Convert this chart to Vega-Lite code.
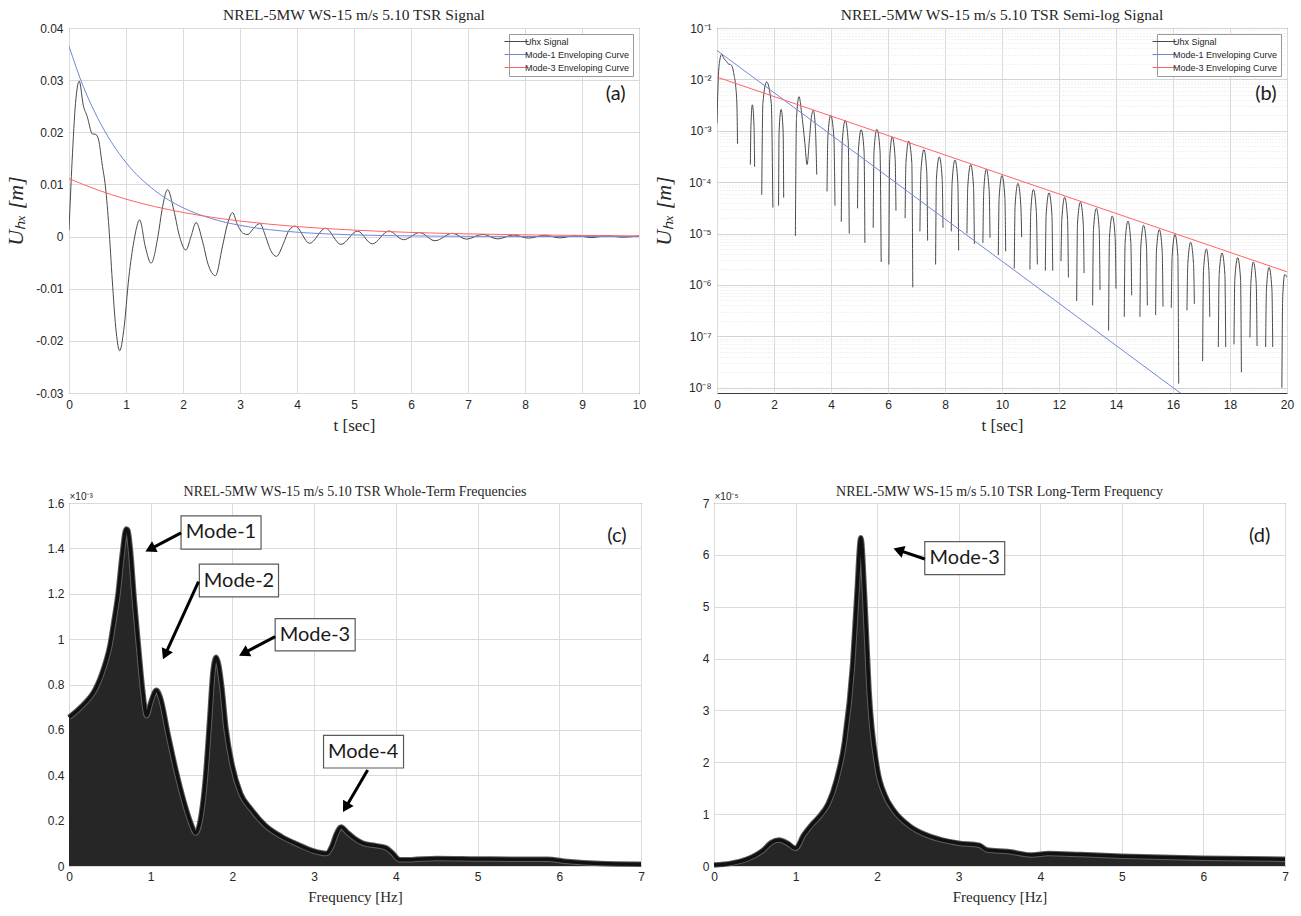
{
  "$schema": "https://vega.github.io/schema/vega-lite/v6.json",
  "padding": {"left": 3, "top": 7, "right": 5, "bottom": 0},
  "spacing": 50,
  "datasets": {
    "sig_a": [
      {"t": 0, "v": 0.0012}, {"t": 0.055, "v": 0.0146}, {"t": 0.114, "v": 0.0255}, {"t": 0.18, "v": 0.0298},
      {"t": 0.25, "v": 0.0252}, {"t": 0.32, "v": 0.023}, {"t": 0.41, "v": 0.0197}, {"t": 0.47, "v": 0.0196},
      {"t": 0.52, "v": 0.0185}, {"t": 0.58, "v": 0.014}, {"t": 0.64, "v": 0.0095}, {"t": 0.7, "v": 0.0018},
      {"t": 0.76, "v": -0.0085}, {"t": 0.82, "v": -0.0174}, {"t": 0.89, "v": -0.0219}, {"t": 0.96, "v": -0.018},
      {"t": 1.05, "v": -0.0078}, {"t": 1.14, "v": -0.0008}, {"t": 1.24, "v": 0.0032}, {"t": 1.34, "v": -0.002},
      {"t": 1.44, "v": -0.0051}, {"t": 1.56, "v": 0}, {"t": 1.63, "v": 0.005}, {"t": 1.73, "v": 0.009},
      {"t": 1.84, "v": 0.005}, {"t": 1.94, "v": 0}, {"t": 2.05, "v": -0.0026}, {"t": 2.14, "v": 0},
      {"t": 2.23, "v": 0.0027}, {"t": 2.34, "v": -0.0008}, {"t": 2.44, "v": -0.0053}, {"t": 2.57, "v": -0.0075},
      {"t": 2.69, "v": -0.002}, {"t": 2.78, "v": 0.0024}, {"t": 2.87, "v": 0.0046}, {"t": 2.95, "v": 0.0024},
      {"t": 3.06, "v": 0.0006}, {"t": 3.14, "v": 0.0004}, {"t": 3.23, "v": 0.0015}, {"t": 3.35, "v": 0.0025},
      {"t": 3.45, "v": 0}, {"t": 3.54, "v": -0.0027}, {"t": 3.64, "v": -0.0038}, {"t": 3.76, "v": -0.0014},
      {"t": 3.86, "v": 0.0012}, {"t": 3.97, "v": 0.002}, {"t": 4.22, "v": -0.0013}, {"t": 4.5, "v": 0.0016},
      {"t": 4.77, "v": -0.0015}, {"t": 5.06, "v": 0.00105}, {"t": 5.32, "v": -0.0014}, {"t": 5.61, "v": 0.00107},
      {"t": 5.87, "v": -0.0006}, {"t": 6.15, "v": 0.00076}, {"t": 6.42, "v": -0.0008}, {"t": 6.73, "v": 0.00063},
      {"t": 6.97, "v": -0.0005}, {"t": 7.26, "v": 0.00043}, {"t": 7.52, "v": -0.00045}, {"t": 7.8, "v": 0.00031},
      {"t": 8.06, "v": -0.0003}, {"t": 8.35, "v": 0.00027}, {"t": 8.61, "v": -0.00025}, {"t": 8.9, "v": 0.00022},
      {"t": 9.16, "v": -0.0002}, {"t": 9.45, "v": 0.00018}, {"t": 9.71, "v": -0.00012}, {"t": 10, "v": 0.00013}
    ],
    "env_a": [
      {"curve": "Mode-1 Enveloping Curve", "t": 0, "v": 0.0365}, {"curve": "Mode-1 Enveloping Curve", "t": 0.25, "v": 0.0288},
      {"curve": "Mode-1 Enveloping Curve", "t": 0.5, "v": 0.0228}, {"curve": "Mode-1 Enveloping Curve", "t": 0.75, "v": 0.018},
      {"curve": "Mode-1 Enveloping Curve", "t": 1, "v": 0.0142}, {"curve": "Mode-1 Enveloping Curve", "t": 1.5, "v": 0.00887},
      {"curve": "Mode-1 Enveloping Curve", "t": 2, "v": 0.00553}, {"curve": "Mode-1 Enveloping Curve", "t": 2.5, "v": 0.00345},
      {"curve": "Mode-1 Enveloping Curve", "t": 3, "v": 0.00215}, {"curve": "Mode-1 Enveloping Curve", "t": 3.5, "v": 0.00134},
      {"curve": "Mode-1 Enveloping Curve", "t": 4, "v": 0.00084}, {"curve": "Mode-1 Enveloping Curve", "t": 5, "v": 0.000326},
      {"curve": "Mode-1 Enveloping Curve", "t": 6, "v": 0.000127}, {"curve": "Mode-1 Enveloping Curve", "t": 7, "v": 0.000049},
      {"curve": "Mode-1 Enveloping Curve", "t": 8, "v": 0.000019}, {"curve": "Mode-1 Enveloping Curve", "t": 9, "v": 0.0000074},
      {"curve": "Mode-1 Enveloping Curve", "t": 10, "v": 0.0000029},
      {"curve": "Mode-3 Enveloping Curve", "t": 0, "v": 0.0111}, {"curve": "Mode-3 Enveloping Curve", "t": 0.5, "v": 0.00895},
      {"curve": "Mode-3 Enveloping Curve", "t": 1, "v": 0.00718}, {"curve": "Mode-3 Enveloping Curve", "t": 1.5, "v": 0.00576},
      {"curve": "Mode-3 Enveloping Curve", "t": 2, "v": 0.00463}, {"curve": "Mode-3 Enveloping Curve", "t": 2.5, "v": 0.00371},
      {"curve": "Mode-3 Enveloping Curve", "t": 3, "v": 0.00298}, {"curve": "Mode-3 Enveloping Curve", "t": 4, "v": 0.00192},
      {"curve": "Mode-3 Enveloping Curve", "t": 5, "v": 0.00124}, {"curve": "Mode-3 Enveloping Curve", "t": 6, "v": 0.000796},
      {"curve": "Mode-3 Enveloping Curve", "t": 7, "v": 0.000512}, {"curve": "Mode-3 Enveloping Curve", "t": 8, "v": 0.00033},
      {"curve": "Mode-3 Enveloping Curve", "t": 9, "v": 0.000212}, {"curve": "Mode-3 Enveloping Curve", "t": 10, "v": 0.000137}
    ],
    "sig_b": [
      {"seg": 1, "t": 0, "v": 0.0014}, {"seg": 1, "t": 0.05, "v": 0.012}, {"seg": 1, "t": 0.1, "v": 0.024}, {"seg": 1, "t": 0.16, "v": 0.031},
      {"seg": 1, "t": 0.25, "v": 0.025}, {"seg": 1, "t": 0.32, "v": 0.023}, {"seg": 1, "t": 0.41, "v": 0.0198}, {"seg": 1, "t": 0.47, "v": 0.0196},
      {"seg": 1, "t": 0.53, "v": 0.018}, {"seg": 1, "t": 0.6, "v": 0.012}, {"seg": 1, "t": 0.66, "v": 0.007}, {"seg": 1, "t": 0.7, "v": 0.003},
      {"seg": 1, "t": 0.72, "v": 0.00056},
      {"seg": 2, "t": 1.17, "v": 2.2e-4}, {"seg": 2, "t": 1.19, "v": 1.2e-3}, {"seg": 2, "t": 1.24, "v": 3.2e-3}, {"seg": 2, "t": 1.3, "v": 1.2e-3}, {"seg": 2, "t": 1.32, "v": 2e-4},
      {"seg": 3, "t": 1.57, "v": 5.7e-5}, {"seg": 3, "t": 1.61, "v": 3.4e-3}, {"seg": 3, "t": 1.74, "v": 8.9e-3}, {"seg": 3, "t": 1.905, "v": 3.4e-3}, {"seg": 3, "t": 1.96, "v": 3.2e-5},
      {"seg": 4, "t": 2.16, "v": 3.5e-5}, {"seg": 4, "t": 2.18, "v": 9.9e-4}, {"seg": 4, "t": 2.25, "v": 2.6e-3}, {"seg": 4, "t": 2.32, "v": 9.9e-4}, {"seg": 4, "t": 2.34, "v": 5e-5},
      {"seg": 5, "t": 2.75, "v": 9e-6}, {"seg": 5, "t": 2.79, "v": 1.8e-3}, {"seg": 5, "t": 2.88, "v": 4.6e-3}, {"seg": 5, "t": 2.97, "v": 2.2e-3},
      {"seg": 5, "t": 3.08, "v": 6e-4}, {"seg": 5, "t": 3.16, "v": 2.2e-4}, {"seg": 5, "t": 3.24, "v": 6.5e-4}, {"seg": 5, "t": 3.31, "v": 1.8e-3},
      {"seg": 5, "t": 3.38, "v": 2.5e-3}, {"seg": 5, "t": 3.45, "v": 1.2e-3}, {"seg": 5, "t": 3.5, "v": 1.4e-4},
      {"seg": 6, "t": 3.86, "v": 6.6e-5}, {"seg": 6, "t": 3.89, "v": 7.6e-4}, {"seg": 6, "t": 3.99, "v": 2e-3}, {"seg": 6, "t": 4.1, "v": 7.6e-4}, {"seg": 6, "t": 4.14, "v": 3.5e-5},
      {"seg": 7, "t": 4.36, "v": 1.7e-5}, {"seg": 7, "t": 4.395, "v": 6.1e-4}, {"seg": 7, "t": 4.5, "v": 1.6e-3}, {"seg": 7, "t": 4.605, "v": 6.1e-4}, {"seg": 7, "t": 4.64, "v": 1e-5},
      {"seg": 8, "t": 4.93, "v": 3.1e-5}, {"seg": 8, "t": 4.96, "v": 4e-4}, {"seg": 8, "t": 5.06, "v": 1.05e-3}, {"seg": 8, "t": 5.16, "v": 4e-4}, {"seg": 8, "t": 5.19, "v": 6.6e-6},
      {"seg": 9, "t": 5.48, "v": 1.3e-5}, {"seg": 9, "t": 5.51, "v": 4.1e-4}, {"seg": 9, "t": 5.61, "v": 1.07e-3}, {"seg": 9, "t": 5.72, "v": 4.1e-4}, {"seg": 9, "t": 5.76, "v": 2.8e-6},
      {"seg": 10, "t": 6.03, "v": 2.5e-6}, {"seg": 10, "t": 6.06, "v": 2.9e-4}, {"seg": 10, "t": 6.15, "v": 7.6e-4}, {"seg": 10, "t": 6.25, "v": 2.9e-4}, {"seg": 10, "t": 6.28, "v": 2.8e-5},
      {"seg": 11, "t": 6.6, "v": 2e-5}, {"seg": 11, "t": 6.63, "v": 2.4e-4}, {"seg": 11, "t": 6.73, "v": 6.3e-4}, {"seg": 11, "t": 6.835, "v": 2.4e-4}, {"seg": 11, "t": 6.87, "v": 9e-7},
      {"seg": 12, "t": 7.12, "v": 1.1e-5}, {"seg": 12, "t": 7.155, "v": 1.6e-4}, {"seg": 12, "t": 7.26, "v": 4.3e-4}, {"seg": 12, "t": 7.36, "v": 1.6e-4}, {"seg": 12, "t": 7.39, "v": 7.3e-6},
      {"seg": 13, "t": 7.67, "v": 2.5e-6}, {"seg": 13, "t": 7.7, "v": 1.2e-4}, {"seg": 13, "t": 7.8, "v": 3.1e-4}, {"seg": 13, "t": 7.9, "v": 1.2e-4}, {"seg": 13, "t": 7.93, "v": 1.3e-5},
      {"seg": 14, "t": 8.22, "v": 1.1e-5}, {"seg": 14, "t": 8.25, "v": 1e-4}, {"seg": 14, "t": 8.35, "v": 2.7e-4}, {"seg": 14, "t": 8.45, "v": 1e-4}, {"seg": 14, "t": 8.48, "v": 4.7e-6},
      {"seg": 15, "t": 8.77, "v": 1e-5}, {"seg": 15, "t": 8.8, "v": 8.4e-5}, {"seg": 15, "t": 8.9, "v": 2.2e-4}, {"seg": 15, "t": 9.0, "v": 8.4e-5}, {"seg": 15, "t": 9.03, "v": 6.3e-6},
      {"seg": 16, "t": 9.33, "v": 6.6e-6}, {"seg": 16, "t": 9.36, "v": 6.8e-5}, {"seg": 16, "t": 9.45, "v": 1.8e-4}, {"seg": 16, "t": 9.55, "v": 6.8e-5}, {"seg": 16, "t": 9.58, "v": 8.3e-6},
      {"seg": 17, "t": 9.87, "v": 3.8e-6}, {"seg": 17, "t": 9.9, "v": 5.1e-5}, {"seg": 17, "t": 10.0, "v": 1.35e-4}, {"seg": 17, "t": 10.1, "v": 5.1e-5}, {"seg": 17, "t": 10.13, "v": 4.5e-6},
      {"seg": 18, "t": 10.43, "v": 2.1e-6}, {"seg": 18, "t": 10.46, "v": 3.6e-5}, {"seg": 18, "t": 10.56, "v": 9.5e-5}, {"seg": 18, "t": 10.66, "v": 3.6e-5}, {"seg": 18, "t": 10.69, "v": 8.5e-6},
      {"seg": 19, "t": 10.98, "v": 2e-6}, {"seg": 19, "t": 11.01, "v": 2.7e-5}, {"seg": 19, "t": 11.1, "v": 7.2e-5}, {"seg": 19, "t": 11.205, "v": 2.7e-5}, {"seg": 19, "t": 11.24, "v": 2.5e-6},
      {"seg": 20, "t": 11.52, "v": 1.9e-6}, {"seg": 20, "t": 11.55, "v": 2.4e-5}, {"seg": 20, "t": 11.65, "v": 6.2e-5}, {"seg": 20, "t": 11.75, "v": 2.4e-5}, {"seg": 20, "t": 11.78, "v": 1.9e-6},
      {"seg": 21, "t": 12.07, "v": 2.9e-6}, {"seg": 21, "t": 12.1, "v": 1.9e-5}, {"seg": 21, "t": 12.2, "v": 5.1e-5}, {"seg": 21, "t": 12.3, "v": 1.9e-5}, {"seg": 21, "t": 12.33, "v": 1.4e-6},
      {"seg": 22, "t": 12.62, "v": 4.9e-7}, {"seg": 22, "t": 12.65, "v": 1.6e-5}, {"seg": 22, "t": 12.75, "v": 4.1e-5}, {"seg": 22, "t": 12.85, "v": 1.6e-5}, {"seg": 22, "t": 12.88, "v": 1.7e-6},
      {"seg": 23, "t": 13.18, "v": 4e-7}, {"seg": 23, "t": 13.21, "v": 1.2e-5}, {"seg": 23, "t": 13.31, "v": 3.1e-5}, {"seg": 23, "t": 13.41, "v": 1.2e-5}, {"seg": 23, "t": 13.44, "v": 8e-7},
      {"seg": 24, "t": 13.74, "v": 1.3e-7}, {"seg": 24, "t": 13.77, "v": 8.4e-6}, {"seg": 24, "t": 13.87, "v": 2.2e-5}, {"seg": 24, "t": 13.97, "v": 8.4e-6}, {"seg": 24, "t": 14.0, "v": 8.5e-7},
      {"seg": 25, "t": 14.29, "v": 2.4e-7}, {"seg": 25, "t": 14.32, "v": 6.7e-6}, {"seg": 25, "t": 14.42, "v": 1.75e-5}, {"seg": 25, "t": 14.52, "v": 6.7e-6}, {"seg": 25, "t": 14.55, "v": 6.3e-7},
      {"seg": 26, "t": 14.84, "v": 2.4e-7}, {"seg": 26, "t": 14.87, "v": 5.5e-6}, {"seg": 26, "t": 14.97, "v": 1.45e-5}, {"seg": 26, "t": 15.07, "v": 5.5e-6}, {"seg": 26, "t": 15.1, "v": 4e-7},
      {"seg": 27, "t": 15.39, "v": 2.6e-7}, {"seg": 27, "t": 15.42, "v": 4.6e-6}, {"seg": 27, "t": 15.52, "v": 1.2e-5}, {"seg": 27, "t": 15.62, "v": 4.6e-6}, {"seg": 27, "t": 15.65, "v": 3.8e-7},
      {"seg": 28, "t": 15.94, "v": 3.6e-7}, {"seg": 28, "t": 15.97, "v": 3.6e-6}, {"seg": 28, "t": 16.07, "v": 9.6e-6}, {"seg": 28, "t": 16.17, "v": 3.6e-6}, {"seg": 28, "t": 16.2, "v": 1.2e-8},
      {"seg": 29, "t": 16.49, "v": 3.2e-7}, {"seg": 29, "t": 16.52, "v": 2.6e-6}, {"seg": 29, "t": 16.62, "v": 6.8e-6}, {"seg": 29, "t": 16.72, "v": 2.6e-6}, {"seg": 29, "t": 16.75, "v": 4.3e-7},
      {"seg": 30, "t": 17.04, "v": 3.3e-8}, {"seg": 30, "t": 17.07, "v": 1.9e-6}, {"seg": 30, "t": 17.17, "v": 5e-6}, {"seg": 30, "t": 17.26, "v": 1.9e-6}, {"seg": 30, "t": 17.29, "v": 2.4e-7},
      {"seg": 31, "t": 17.59, "v": 6.2e-8}, {"seg": 31, "t": 17.62, "v": 1.6e-6}, {"seg": 31, "t": 17.72, "v": 4.2e-6}, {"seg": 31, "t": 17.82, "v": 1.6e-6}, {"seg": 31, "t": 17.85, "v": 6.2e-8},
      {"seg": 32, "t": 18.14, "v": 7e-8}, {"seg": 32, "t": 18.17, "v": 1.3e-6}, {"seg": 32, "t": 18.27, "v": 3.4e-6}, {"seg": 32, "t": 18.37, "v": 1.3e-6}, {"seg": 32, "t": 18.4, "v": 2e-8},
      {"seg": 33, "t": 18.7, "v": 9.5e-8}, {"seg": 33, "t": 18.73, "v": 1.06e-6}, {"seg": 33, "t": 18.82, "v": 2.8e-6}, {"seg": 33, "t": 18.92, "v": 1.06e-6}, {"seg": 33, "t": 18.95, "v": 6.5e-8},
      {"seg": 34, "t": 19.25, "v": 6.2e-8}, {"seg": 34, "t": 19.28, "v": 8.4e-7}, {"seg": 34, "t": 19.37, "v": 2.2e-6}, {"seg": 34, "t": 19.47, "v": 8.4e-7}, {"seg": 34, "t": 19.5, "v": 6.2e-8},
      {"seg": 35, "t": 19.82, "v": 1e-8}, {"seg": 35, "t": 19.85, "v": 6e-7}, {"seg": 35, "t": 19.92, "v": 1.6e-6}, {"seg": 35, "t": 20.0, "v": 1.4e-6}
    ],
    "env_b": [
      {"curve": "Mode-1 Enveloping Curve", "t": 0, "v": 0.0365}, {"curve": "Mode-1 Enveloping Curve", "t": 16.4, "v": 6.9e-9},
      {"curve": "Mode-3 Enveloping Curve", "t": 0, "v": 0.0111}, {"curve": "Mode-3 Enveloping Curve", "t": 20, "v": 1.8e-6}
    ],
    "spec_c": [
      {"f": 0, "v": 0.655}, {"f": 0.1, "v": 0.685}, {"f": 0.2, "v": 0.72}, {"f": 0.3, "v": 0.765}, {"f": 0.35, "v": 0.8},
      {"f": 0.4, "v": 0.845}, {"f": 0.45, "v": 0.9}, {"f": 0.5, "v": 0.97}, {"f": 0.55, "v": 1.08}, {"f": 0.6, "v": 1.2},
      {"f": 0.65, "v": 1.37}, {"f": 0.7, "v": 1.485}, {"f": 0.72, "v": 1.48}, {"f": 0.75, "v": 1.4}, {"f": 0.8, "v": 1.17},
      {"f": 0.85, "v": 0.97}, {"f": 0.9, "v": 0.78}, {"f": 0.95, "v": 0.662}, {"f": 1.0, "v": 0.72}, {"f": 1.07, "v": 0.775},
      {"f": 1.12, "v": 0.74}, {"f": 1.21, "v": 0.585}, {"f": 1.31, "v": 0.42}, {"f": 1.41, "v": 0.28}, {"f": 1.49, "v": 0.19},
      {"f": 1.55, "v": 0.145}, {"f": 1.62, "v": 0.23}, {"f": 1.67, "v": 0.39}, {"f": 1.72, "v": 0.64}, {"f": 1.76, "v": 0.85},
      {"f": 1.8, "v": 0.92}, {"f": 1.83, "v": 0.89}, {"f": 1.87, "v": 0.79}, {"f": 1.92, "v": 0.61}, {"f": 2.0, "v": 0.44},
      {"f": 2.1, "v": 0.32}, {"f": 2.23, "v": 0.25}, {"f": 2.4, "v": 0.18}, {"f": 2.6, "v": 0.13}, {"f": 2.8, "v": 0.095},
      {"f": 3.0, "v": 0.065}, {"f": 3.15, "v": 0.055}, {"f": 3.22, "v": 0.09}, {"f": 3.27, "v": 0.14}, {"f": 3.33, "v": 0.172},
      {"f": 3.4, "v": 0.15}, {"f": 3.5, "v": 0.12}, {"f": 3.6, "v": 0.1}, {"f": 3.75, "v": 0.09}, {"f": 3.88, "v": 0.08},
      {"f": 3.95, "v": 0.06}, {"f": 4.05, "v": 0.027}, {"f": 4.2, "v": 0.028}, {"f": 4.5, "v": 0.033}, {"f": 5.0, "v": 0.031},
      {"f": 5.5, "v": 0.03}, {"f": 5.85, "v": 0.03}, {"f": 6.1, "v": 0.02}, {"f": 6.5, "v": 0.011}, {"f": 7.0, "v": 0.008}
    ],
    "spec_d": [
      {"f": 0, "v": 0.02}, {"f": 0.2, "v": 0.05}, {"f": 0.4, "v": 0.13}, {"f": 0.5, "v": 0.2}, {"f": 0.6, "v": 0.3},
      {"f": 0.7, "v": 0.45}, {"f": 0.8, "v": 0.5}, {"f": 0.9, "v": 0.44}, {"f": 1.0, "v": 0.34}, {"f": 1.1, "v": 0.6},
      {"f": 1.2, "v": 0.8}, {"f": 1.3, "v": 0.97}, {"f": 1.4, "v": 1.2}, {"f": 1.5, "v": 1.65}, {"f": 1.6, "v": 2.4},
      {"f": 1.7, "v": 3.9}, {"f": 1.75, "v": 5.2}, {"f": 1.8, "v": 6.33}, {"f": 1.85, "v": 5.1}, {"f": 1.9, "v": 3.4},
      {"f": 2.0, "v": 1.9}, {"f": 2.1, "v": 1.35}, {"f": 2.2, "v": 1.08}, {"f": 2.4, "v": 0.77}, {"f": 2.6, "v": 0.6},
      {"f": 2.8, "v": 0.5}, {"f": 3.0, "v": 0.44}, {"f": 3.25, "v": 0.4}, {"f": 3.35, "v": 0.31}, {"f": 3.6, "v": 0.28},
      {"f": 3.9, "v": 0.21}, {"f": 4.1, "v": 0.24}, {"f": 4.5, "v": 0.22}, {"f": 5.0, "v": 0.19}, {"f": 6.0, "v": 0.15},
      {"f": 7.0, "v": 0.13}
    ],
    "notes_c": [
      {"label": "Mode-1", "x1": 1.371, "x2": 2.35, "y1": 1.397, "y2": 1.543, "xm": 1.86, "ym": 1.47, "ax1": 1.371, "ay1": 1.468, "ax2": 0.993, "ay2": 1.397, "angle": 242.7},
      {"label": "Mode-2", "x1": 1.595, "x2": 2.564, "y1": 1.186, "y2": 1.331, "xm": 2.08, "ym": 1.258, "ax1": 1.585, "ay1": 1.253, "ax2": 1.177, "ay2": 0.932, "angle": 204.6},
      {"label": "Mode-3", "x1": 2.523, "x2": 3.502, "y1": 0.948, "y2": 1.09, "xm": 3.01, "ym": 1.019, "ax1": 2.523, "ay1": 1.011, "ax2": 2.139, "ay2": 0.938, "angle": 242.3},
      {"label": "Mode-4", "x1": 3.115, "x2": 4.094, "y1": 0.432, "y2": 0.576, "xm": 3.6, "ym": 0.504, "ax1": 3.655, "ay1": 0.423, "ax2": 3.386, "ay2": 0.258, "angle": 210.4}
    ],
    "notes_d": [
      {"label": "Mode-3", "x1": 2.584, "x2": 3.564, "y1": 5.617, "y2": 6.254, "xm": 3.074, "ym": 5.935, "ax1": 2.584, "ay1": 5.92, "ax2": 2.262, "ay2": 6.09, "angle": 288.5}
    ]
  },
  "vconcat": [
    {
      "spacing": 4,
      "resolve": {"scale": {"color": "independent"}, "legend": {"color": "independent"}},
      "hconcat": [
        {
          "width": 570,
          "height": 365,
          "title": {"text": "NREL-5MW WS-15 m/s 5.10 TSR Signal"},
          "layer": [
            {
              "data": {"name": "sig_a"},
              "mark": {"type": "line", "strokeWidth": 1, "interpolate": "monotone", "clip": true},
              "encoding": {
                "x": {"field": "t", "type": "quantitative", "scale": {"domain": [0, 10], "nice": false},
                  "axis": {"values": [0, 1, 2, 3, 4, 5, 6, 7, 8, 9, 10], "format": "~g", "title": "t [sec]", "titleFontSize": 17, "labelPadding": 6, "titlePadding": 7}},
                "y": {"field": "v", "type": "quantitative", "scale": {"domain": [-0.03, 0.04], "nice": false},
                  "axis": {"values": [-0.03, -0.02, -0.01, 0, 0.01, 0.02, 0.03, 0.04],
                    "labelExpr": "datum.value === 0 ? '0' : replace(format(datum.value, '.2f'), '−', '-')",
                    "title": "Uₕₓ [m]", "titleFontSize": 22, "titleFontStyle": "italic", "titlePadding": 4,
                    "labelPadding": 6, "minExtent": 38, "maxExtent": 38}},
                "color": {"datum": "Uhx Signal", "type": "nominal",
                  "scale": {"domain": ["Uhx Signal", "Mode-1 Enveloping Curve", "Mode-3 Enveloping Curve"], "range": ["#4a4a4a", "#7088d8", "#ff6464"]},
                  "legend": {"title": null, "orient": "top-right", "offset": 6, "fillColor": "white", "strokeColor": "#9a9a9a", "padding": 3,
                    "symbolType": "M-4,0L4,0", "symbolSize": 36, "symbolStrokeWidth": 1, "labelFontSize": 9, "labelOffset": 4, "rowPadding": 3, "labelColor": "#262626"}}
              }
            },
            {
              "data": {"name": "env_a"},
              "mark": {"type": "line", "strokeWidth": 1, "interpolate": "monotone", "clip": true},
              "encoding": {
                "x": {"field": "t", "type": "quantitative"},
                "y": {"field": "v", "type": "quantitative"},
                "color": {"field": "curve", "type": "nominal",
                  "scale": {"domain": ["Uhx Signal", "Mode-1 Enveloping Curve", "Mode-3 Enveloping Curve"], "range": ["#4a4a4a", "#7088d8", "#ff6464"]},
                  "legend": {"title": null, "orient": "top-right", "offset": 6, "fillColor": "white", "strokeColor": "#9a9a9a", "padding": 3,
                    "symbolType": "M-4,0L4,0", "symbolSize": 36, "symbolStrokeWidth": 1, "labelFontSize": 9, "labelOffset": 4, "rowPadding": 3, "labelColor": "#262626"}}
              }
            },
            {
              "data": {"values": [{"t": 9.59, "v": 0.0273, "label": "(a)"}]},
              "mark": {"type": "text", "font": "Lato", "fontSize": 20, "color": "#1a1a1a", "baseline": "middle", "align": "center"},
              "encoding": {
                "x": {"field": "t", "type": "quantitative"},
                "y": {"field": "v", "type": "quantitative"},
                "text": {"field": "label"}
              }
            }
          ]
        },
        {
          "width": 570,
          "height": 365,
          "title": {"text": "NREL-5MW WS-15 m/s 5.10 TSR Semi-log Signal"},
          "layer": [
            {
              "data": {"name": "sig_b"},
              "mark": {"type": "line", "strokeWidth": 1, "interpolate": "monotone", "clip": true},
              "encoding": {
                "x": {"field": "t", "type": "quantitative", "scale": {"domain": [0, 20], "nice": false},
                  "axis": {"values": [0, 2, 4, 6, 8, 10, 12, 14, 16, 18, 20], "format": "~g", "title": "t [sec]", "titleFontSize": 17, "labelPadding": 6, "titlePadding": 7}},
                "y": {"field": "v", "type": "quantitative", "scale": {"type": "log", "domain": [7.9e-9, 0.1], "nice": false},
                  "axis": {
                    "values": [9e-9, 1e-8, 2e-8, 3e-8, 4e-8, 5e-8, 6e-8, 7e-8, 8e-8, 9e-8, 1e-7, 2e-7, 3e-7, 4e-7, 5e-7, 6e-7, 7e-7, 8e-7, 9e-7,
                      1e-6, 2e-6, 3e-6, 4e-6, 5e-6, 6e-6, 7e-6, 8e-6, 9e-6, 1e-5, 2e-5, 3e-5, 4e-5, 5e-5, 6e-5, 7e-5, 8e-5, 9e-5,
                      1e-4, 2e-4, 3e-4, 4e-4, 5e-4, 6e-4, 7e-4, 8e-4, 9e-4, 1e-3, 2e-3, 3e-3, 4e-3, 5e-3, 6e-3, 7e-3, 8e-3, 9e-3,
                      1e-2, 2e-2, 3e-2, 4e-2, 5e-2, 6e-2, 7e-2, 8e-2, 9e-2, 1e-1],
                    "labelExpr": "abs(log(datum.value)/LN10 - round(log(datum.value)/LN10)) < 0.01 ? '10⁻' + ['⁰','¹','²','³','⁴','⁵','⁶','⁷','⁸','⁹'][-round(log(datum.value)/LN10)] : ''",
                    "gridDash": {"condition": {"test": "abs(log(datum.value)/LN10 - round(log(datum.value)/LN10)) > 0.01", "value": [1, 2]}, "value": []},
                    "gridColor": {"condition": {"test": "abs(log(datum.value)/LN10 - round(log(datum.value)/LN10)) > 0.01", "value": "#e4e4e4"}, "value": "#d4d4d4"},
                    "title": "Uₕₓ [m]", "titleFontSize": 22, "titleFontStyle": "italic", "titlePadding": 4,
                    "labelPadding": 6, "minExtent": 38, "maxExtent": 38}},
                "detail": {"field": "seg", "type": "nominal"},
                "color": {"datum": "Uhx Signal", "type": "nominal",
                  "scale": {"domain": ["Uhx Signal", "Mode-1 Enveloping Curve", "Mode-3 Enveloping Curve"], "range": ["#4a4a4a", "#7088d8", "#ff6464"]},
                  "legend": {"title": null, "orient": "top-right", "offset": 6, "fillColor": "white", "strokeColor": "#9a9a9a", "padding": 3,
                    "symbolType": "M-4,0L4,0", "symbolSize": 36, "symbolStrokeWidth": 1, "labelFontSize": 9, "labelOffset": 4, "rowPadding": 3, "labelColor": "#262626"}}
              }
            },
            {
              "data": {"name": "env_b"},
              "mark": {"type": "line", "strokeWidth": 1, "clip": true},
              "encoding": {
                "x": {"field": "t", "type": "quantitative"},
                "y": {"field": "v", "type": "quantitative"},
                "color": {"field": "curve", "type": "nominal",
                  "scale": {"domain": ["Uhx Signal", "Mode-1 Enveloping Curve", "Mode-3 Enveloping Curve"], "range": ["#4a4a4a", "#7088d8", "#ff6464"]},
                  "legend": {"title": null, "orient": "top-right", "offset": 6, "fillColor": "white", "strokeColor": "#9a9a9a", "padding": 3,
                    "symbolType": "M-4,0L4,0", "symbolSize": 36, "symbolStrokeWidth": 1, "labelFontSize": 9, "labelOffset": 4, "rowPadding": 3, "labelColor": "#262626"}}
              }
            },
            {
              "data": {"values": [{"t": 19.26, "v": 0.0051, "label": "(b)"}]},
              "mark": {"type": "text", "font": "Lato", "fontSize": 20, "color": "#1a1a1a", "baseline": "middle", "align": "center"},
              "encoding": {
                "x": {"field": "t", "type": "quantitative"},
                "y": {"field": "v", "type": "quantitative"},
                "text": {"field": "label"}
              }
            }
          ]
        }
      ]
    },
    {
      "spacing": -3,
      "hconcat": [
        {
          "width": 572,
          "height": 363,
          "title": {"text": "NREL-5MW WS-15 m/s 5.10 TSR Whole-Term Frequencies", "fontSize": 14, "offset": -8},
          "layer": [
            {
              "data": {"name": "spec_c"},
              "mark": {"type": "area", "color": "#262626", "interpolate": "monotone"},
              "encoding": {
                "x": {"field": "f", "type": "quantitative", "scale": {"domain": [0, 7], "nice": false},
                  "axis": {"values": [0, 1, 2, 3, 4, 5, 6, 7], "format": "~g", "title": "Frequency [Hz]", "titleFontSize": 15, "labelPadding": 5, "titlePadding": 7}},
                "y": {"field": "v", "type": "quantitative", "scale": {"domain": [0, 1.6], "nice": false},
                  "axis": {"values": [0, 0.2, 0.4, 0.6, 0.8, 1, 1.2, 1.4, 1.6], "format": "~g",
                    "title": "×10⁻³", "titleAngle": 0, "titleX": 0, "titleY": -4, "titleAlign": "left", "titleBaseline": "alphabetic",
                    "titleFont": "Liberation Sans", "titleFontSize": 10, "labelPadding": 5, "minExtent": 63, "maxExtent": 63}}
              }
            },
            {
              "data": {"name": "spec_c"},
              "mark": {"type": "line", "color": "#5e5e5e", "strokeWidth": 5.5, "interpolate": "monotone"},
              "encoding": {"x": {"field": "f", "type": "quantitative"}, "y": {"field": "v", "type": "quantitative"}}
            },
            {
              "data": {"name": "spec_c"},
              "mark": {"type": "line", "color": "#111111", "strokeWidth": 3.5, "interpolate": "monotone"},
              "encoding": {"x": {"field": "f", "type": "quantitative"}, "y": {"field": "v", "type": "quantitative"}}
            },
            {
              "data": {"name": "notes_c"},
              "mark": {"type": "rect", "fill": "white", "stroke": "#5a5a5a", "strokeWidth": 1.2},
              "encoding": {
                "x": {"field": "x1", "type": "quantitative"}, "x2": {"field": "x2"},
                "y": {"field": "y1", "type": "quantitative"}, "y2": {"field": "y2"}
              }
            },
            {
              "data": {"name": "notes_c"},
              "mark": {"type": "text", "font": "Lato", "fontSize": 20, "color": "#1a1a1a", "baseline": "middle", "align": "center"},
              "encoding": {
                "x": {"field": "xm", "type": "quantitative"},
                "y": {"field": "ym", "type": "quantitative"},
                "text": {"field": "label"}
              }
            },
            {
              "data": {"name": "notes_c"},
              "mark": {"type": "rule", "color": "black", "strokeWidth": 3},
              "encoding": {
                "x": {"field": "ax1", "type": "quantitative"}, "x2": {"field": "ax2"},
                "y": {"field": "ay1", "type": "quantitative"}, "y2": {"field": "ay2"}
              }
            },
            {
              "data": {"name": "notes_c"},
              "mark": {"type": "point", "shape": "triangle-up", "filled": true, "color": "black", "size": 150, "opacity": 1},
              "encoding": {
                "x": {"field": "ax2", "type": "quantitative"},
                "y": {"field": "ay2", "type": "quantitative"},
                "angle": {"field": "angle", "type": "quantitative", "scale": null}
              }
            },
            {
              "data": {"values": [{"f": 6.705, "v": 1.454, "label": "(c)"}]},
              "mark": {"type": "text", "font": "Lato", "fontSize": 20, "color": "#1a1a1a", "baseline": "middle", "align": "center"},
              "encoding": {
                "x": {"field": "f", "type": "quantitative"},
                "y": {"field": "v", "type": "quantitative"},
                "text": {"field": "label"}
              }
            }
          ]
        },
        {
          "width": 571,
          "height": 363,
          "title": {"text": "NREL-5MW WS-15 m/s 5.10 TSR Long-Term Frequency", "fontSize": 14, "offset": -8},
          "layer": [
            {
              "data": {"name": "spec_d"},
              "mark": {"type": "area", "color": "#262626", "interpolate": "monotone"},
              "encoding": {
                "x": {"field": "f", "type": "quantitative", "scale": {"domain": [0, 7], "nice": false},
                  "axis": {"values": [0, 1, 2, 3, 4, 5, 6, 7], "format": "~g", "title": "Frequency [Hz]", "titleFontSize": 15, "labelPadding": 5, "titlePadding": 7}},
                "y": {"field": "v", "type": "quantitative", "scale": {"domain": [0, 7], "nice": false},
                  "axis": {"values": [0, 1, 2, 3, 4, 5, 6, 7], "format": "~g",
                    "title": "×10⁻⁵", "titleAngle": 0, "titleX": 0, "titleY": -4, "titleAlign": "left", "titleBaseline": "alphabetic",
                    "titleFont": "Liberation Sans", "titleFontSize": 10, "labelPadding": 5, "minExtent": 63, "maxExtent": 63}}
              }
            },
            {
              "data": {"name": "spec_d"},
              "mark": {"type": "line", "color": "#5e5e5e", "strokeWidth": 5.5, "interpolate": "monotone"},
              "encoding": {"x": {"field": "f", "type": "quantitative"}, "y": {"field": "v", "type": "quantitative"}}
            },
            {
              "data": {"name": "spec_d"},
              "mark": {"type": "line", "color": "#111111", "strokeWidth": 3.5, "interpolate": "monotone"},
              "encoding": {"x": {"field": "f", "type": "quantitative"}, "y": {"field": "v", "type": "quantitative"}}
            },
            {
              "data": {"name": "notes_d"},
              "mark": {"type": "rect", "fill": "white", "stroke": "#5a5a5a", "strokeWidth": 1.2},
              "encoding": {
                "x": {"field": "x1", "type": "quantitative"}, "x2": {"field": "x2"},
                "y": {"field": "y1", "type": "quantitative"}, "y2": {"field": "y2"}
              }
            },
            {
              "data": {"name": "notes_d"},
              "mark": {"type": "text", "font": "Lato", "fontSize": 20, "color": "#1a1a1a", "baseline": "middle", "align": "center"},
              "encoding": {
                "x": {"field": "xm", "type": "quantitative"},
                "y": {"field": "ym", "type": "quantitative"},
                "text": {"field": "label"}
              }
            },
            {
              "data": {"name": "notes_d"},
              "mark": {"type": "rule", "color": "black", "strokeWidth": 3},
              "encoding": {
                "x": {"field": "ax1", "type": "quantitative"}, "x2": {"field": "ax2"},
                "y": {"field": "ay1", "type": "quantitative"}, "y2": {"field": "ay2"}
              }
            },
            {
              "data": {"name": "notes_d"},
              "mark": {"type": "point", "shape": "triangle-up", "filled": true, "color": "black", "size": 150, "opacity": 1},
              "encoding": {
                "x": {"field": "ax2", "type": "quantitative"},
                "y": {"field": "ay2", "type": "quantitative"},
                "angle": {"field": "angle", "type": "quantitative", "scale": null}
              }
            },
            {
              "data": {"values": [{"f": 6.69, "v": 6.36, "label": "(d)"}]},
              "mark": {"type": "text", "font": "Lato", "fontSize": 20, "color": "#1a1a1a", "baseline": "middle", "align": "center"},
              "encoding": {
                "x": {"field": "f", "type": "quantitative"},
                "y": {"field": "v", "type": "quantitative"},
                "text": {"field": "label"}
              }
            }
          ]
        }
      ]
    }
  ],
  "config": {
    "font": "Liberation Sans",
    "view": {"stroke": "#3c3c3c", "strokeWidth": 1},
    "axis": {"domain": false, "ticks": false, "grid": true, "gridColor": "#dadada", "gridWidth": 1,
      "labelFont": "Liberation Sans", "labelFontSize": 12, "labelColor": "#262626",
      "titleFont": "Liberation Serif", "titleFontWeight": "normal", "titleColor": "#262626",
      "labelFlush": false, "labelOverlap": false},
    "title": {"font": "Liberation Serif", "fontWeight": "normal", "color": "#262626", "fontSize": 15.5, "offset": -1}
  }
}
